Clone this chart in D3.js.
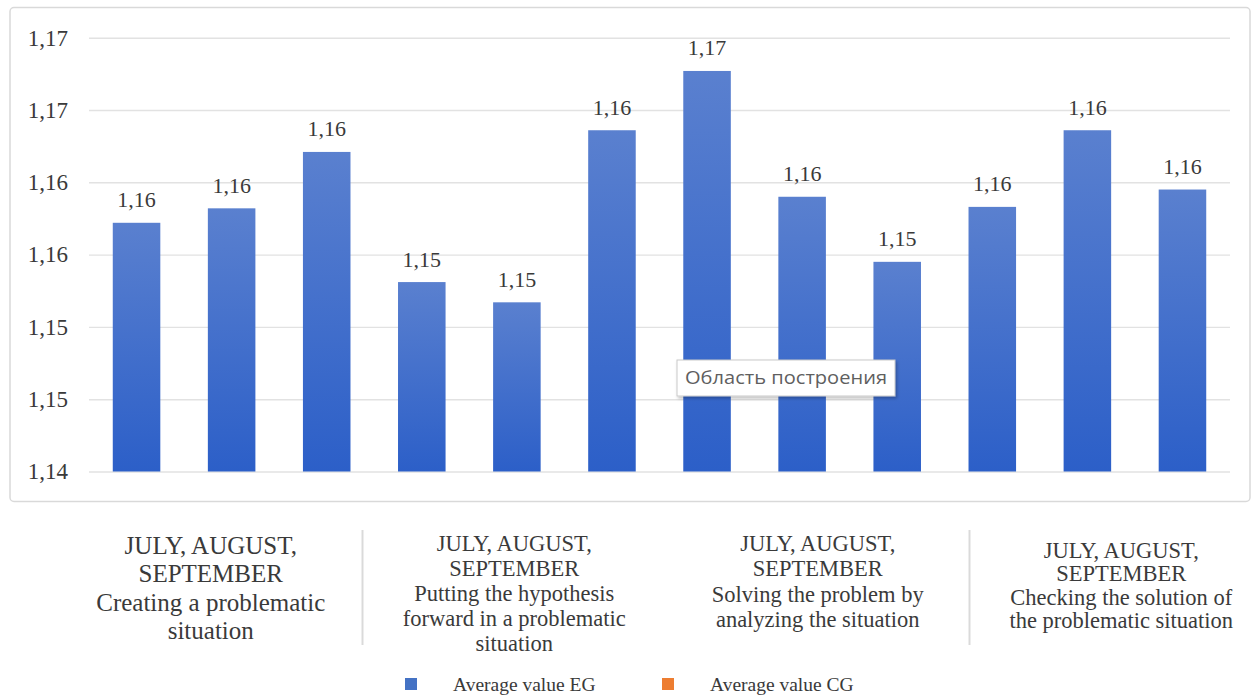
<!DOCTYPE html>
<html>
<head>
<meta charset="utf-8">
<script src="https://cdn.jsdelivr.net/npm/d3@7"></script>
<style>
  html, body { margin: 0; padding: 0; background: #ffffff; }
  svg { display: block; }
</style>
</head>
<body>
<svg id="chart" width="1255" height="697"></svg>
<script>
// ---- data ----
const months = ["July", "August", "September"];
const stages = ["Creating", "Hypothesis", "Solving", "Checking"];
const categories = stages.flatMap(s => months.map(m => s + " / " + m));
const valuesEG = [1.1572, 1.1582, 1.1621, 1.1531, 1.1517, 1.1636,
                  1.1677, 1.1590, 1.1545, 1.1583, 1.1636, 1.1595];
const yTickValues = [1.14, 1.145, 1.15, 1.155, 1.16, 1.165, 1.17];
const yTickLabels = ["1,14", "1,15", "1,15", "1,16", "1,16", "1,17", "1,17"];
const groupLabels = [
  ["JULY, AUGUST,", "SEPTEMBER", "Creating a problematic", "situation"],
  ["JULY, AUGUST,", "SEPTEMBER", "Putting the hypothesis", "forward in a problematic", "situation"],
  ["JULY, AUGUST,", "SEPTEMBER", "Solving the problem by", "analyzing the situation"],
  ["JULY, AUGUST,", "SEPTEMBER", "Checking the solution of", "the problematic situation"]
];
const legendLabels = ["Average value EG", "Average value CG"];
const plotAreaHint = "Область построения";

// ---- layout / style ----
const serif = "'Liberation Serif', 'Times New Roman', serif";
const textColor = "#3a3a3a";
const plot = { left: 89, right: 1230, top: 37.7, bottom: 471.5 };
const groupStyle = [
  { size: 25,   lead: 28.5, first: 545 },
  { size: 22.5, lead: 25,   first: 543 },
  { size: 22.5, lead: 25.5, first: 543 },
  { size: 22.5, lead: 23.5, first: 550 }
];
const legendColors = ["#4472c4", "#ed7d31"];

const svg = d3.select("#chart");
const defs = svg.append("defs");

const grad = defs.append("linearGradient")
  .attr("id", "barFill").attr("x1", 0).attr("y1", 0).attr("x2", 0).attr("y2", 1);
grad.append("stop").attr("offset", "0%").attr("stop-color", "#5a80cf");
grad.append("stop").attr("offset", "100%").attr("stop-color", "#2c5fc8");

const shadow = defs.append("filter").attr("id", "hintShadow")
  .attr("x", "-10%").attr("y", "-30%").attr("width", "130%").attr("height", "180%");
shadow.append("feDropShadow").attr("dx", 1.5).attr("dy", 2).attr("stdDeviation", 1.5)
  .attr("flood-color", "#000").attr("flood-opacity", 0.25);

// chart frame
svg.append("rect")
  .attr("x", 10).attr("y", 7.5).attr("width", 1240).attr("height", 494)
  .attr("rx", 4)
  .attr("fill", "#fff").attr("stroke", "#d9d9d9").attr("stroke-width", 1.5);

// ---- scales ----
const x = d3.scaleBand().domain(categories)
  .range([plot.left, plot.right]).paddingInner(0.5).paddingOuter(0.25);
const y = d3.scaleLinear().domain([1.14, 1.17]).range([plot.bottom, plot.top]);
const fmt = v => d3.format(".2f")(v).replace(".", ",");

// value axis with gridlines
const yAxis = svg.append("g")
  .attr("transform", `translate(${plot.left},0)`)
  .call(d3.axisLeft(y)
    .tickValues(yTickValues)
    .tickFormat((d, i) => yTickLabels[i])
    .tickSize(-(plot.right - plot.left))
    .tickPadding(21));
yAxis.select(".domain").remove();
yAxis.selectAll(".tick line").attr("stroke", "#e2e2e2").attr("stroke-width", 1.4);
yAxis.selectAll(".tick text")
  .attr("font-family", serif).attr("font-size", 23).attr("fill", textColor);

// bars
svg.append("g").selectAll("rect")
  .data(valuesEG)
  .join("rect")
  .attr("x", (d, i) => x(categories[i]))
  .attr("width", x.bandwidth())
  .attr("y", d => y(d))
  .attr("height", d => y(1.14) - y(d))
  .attr("fill", "url(#barFill)");

// value labels
svg.append("g").selectAll("text")
  .data(valuesEG)
  .join("text")
  .attr("x", (d, i) => x(categories[i]) + x.bandwidth() / 2)
  .attr("y", d => y(d) - 15.5)
  .attr("text-anchor", "middle")
  .attr("font-family", serif).attr("font-size", 22).attr("fill", textColor)
  .text(d => fmt(d));

// category (stage) labels below the frame
const xg = d3.scaleBand().domain(stages).range([59, 1273]);
const groups = svg.append("g").selectAll("g")
  .data(groupLabels)
  .join("g");
groups.each(function (lines, gi) {
  const st = groupStyle[gi];
  const cx = xg(stages[gi]) + xg.bandwidth() / 2;
  d3.select(this).selectAll("text")
    .data(lines)
    .join("text")
    .attr("x", cx)
    .attr("y", (d, li) => st.first + li * st.lead)
    .attr("dy", "0.35em")
    .attr("text-anchor", "middle")
    .attr("font-family", serif).attr("font-size", st.size).attr("fill", textColor)
    .text(d => d);
});

// separators between stage labels
svg.append("g").selectAll("line")
  .data([stages[1], stages[3]])
  .join("line")
  .attr("x1", d => xg(d)).attr("x2", d => xg(d))
  .attr("y1", 530).attr("y2", 645)
  .attr("stroke", "#dadada").attr("stroke-width", 2);

// legend
const legendX = [405, 662];
const legend = svg.append("g").selectAll("g")
  .data(legendLabels)
  .join("g")
  .attr("transform", (d, i) => `translate(${legendX[i]},678)`);
legend.append("rect")
  .attr("width", 12).attr("height", 12)
  .attr("fill", (d, i) => legendColors[i]);
legend.append("text")
  .attr("x", 48).attr("y", 6).attr("dy", "0.35em")
  .attr("font-family", serif).attr("font-size", 19.5).attr("fill", textColor)
  .text(d => d);

// plot-area hint box
const hint = svg.append("g").attr("transform", "translate(677,360)");
hint.append("rect")
  .attr("width", 218).attr("height", 36)
  .attr("fill", "#fff").attr("stroke", "#c9c9c9").attr("stroke-width", 1)
  .attr("filter", "url(#hintShadow)");
hint.append("text")
  .attr("x", 8).attr("y", 18).attr("dy", "0.35em")
  .attr("font-family", "'Open Sans', 'Noto Sans', sans-serif")
  .attr("font-size", 18).attr("fill", "#5f5f5f")
  .attr("textLength", 202).attr("lengthAdjust", "spacingAndGlyphs")
  .text(plotAreaHint);
</script>
</body>
</html>
